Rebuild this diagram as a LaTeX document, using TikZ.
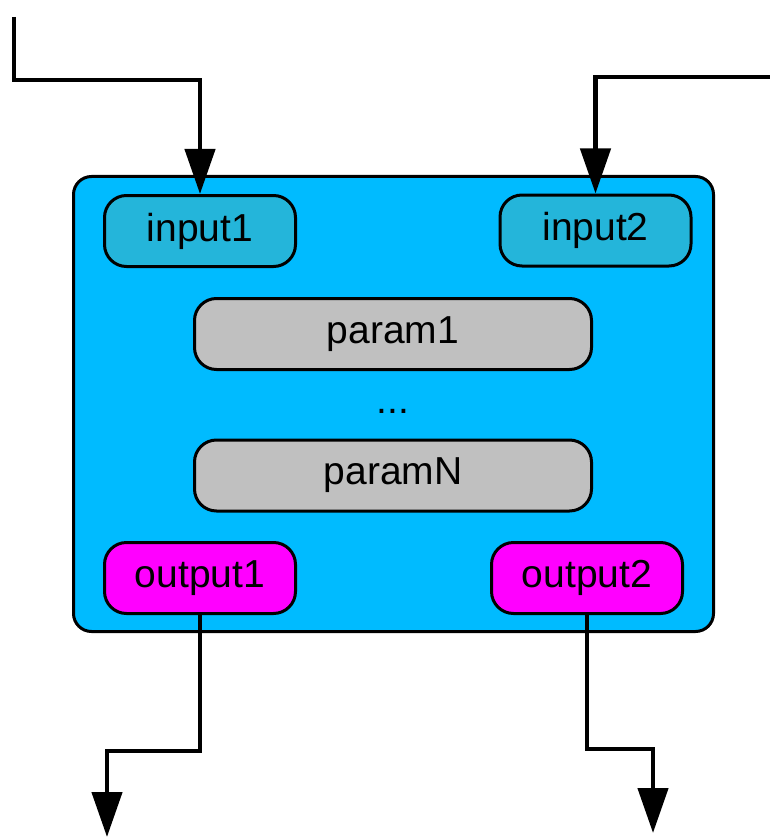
\documentclass[tikz,border=0pt]{standalone}
\usepackage{fontspec}
\setmainfont{Liberation Sans}
\usetikzlibrary{arrows.meta}
\definecolor{blockblue}{RGB}{0,187,255}
\definecolor{inportcol}{RGB}{36,181,218}
\definecolor{paramgray}{RGB}{192,192,192}
\definecolor{outportcol}{RGB}{255,0,255}
\begin{document}
\begin{tikzpicture}[x=1pt,y=-1pt,
  port/.style={draw=black, line width=3pt, rounded corners=22pt,
    minimum width=191pt, minimum height=71pt, inner sep=0pt,
    font=\fontsize{39}{46}\selectfont},
  inport/.style={port, fill=inportcol},
  outport/.style={port, fill=outportcol},
  parambox/.style={port, fill=paramgray, minimum width=397pt},
  wire/.style={line width=4.5pt},
  flow/.style={wire, -{Triangle[length=45pt,width=30pt]}},
]
\useasboundingbox (0,0) rectangle (770,837);

% outer block
\draw[line width=3pt, fill=blockblue, rounded corners=18pt]
  (73.5,176.5) rectangle (713.5,631.5);

% ports and parameters
\node[inport] (in1) at (200,231) {input1};
\node[inport] (in2) at (595.5,230.5) {input2};
\node[parambox] (p1) at (393,334) {param1};
\node[font=\fontsize{39}{46}\selectfont] (dots) at (393,411) {...};
\node[parambox] (pN) at (393,475.5) {paramN};
\node[outport] (out1) at (200,578) {output1};
\node[outport] (out2) at (587,578) {output2};

% free ends of the wires
\coordinate (src1) at (14,17);
\coordinate (src2) at (770,77);
\coordinate (dst1) at (107,837);
\coordinate (dst2) at (653,833);

% incoming wires
\draw[flow] (src1) |- (200,80) -- (in1.north);
\draw[flow] (src2) -| (in2.north);

% outgoing wires
\draw[flow] (out1.south) -- (200,751) -| (dst1);
\draw[flow] (out2.south) -- (587,749) -| (dst2);
\end{tikzpicture}
\end{document}
